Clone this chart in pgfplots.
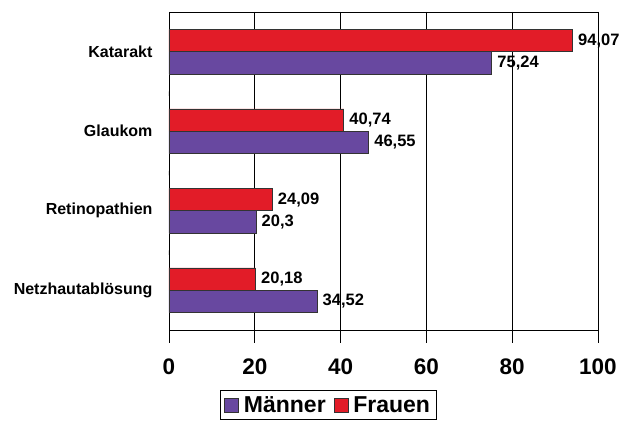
\documentclass[border=0pt]{standalone}
\usepackage{fontspec}
\setmainfont{Liberation Sans}
\usepackage{pgfplots}
\pgfplotsset{compat=1.18}
\definecolor{maenner}{RGB}{104,72,160}
\definecolor{frauen}{RGB}{226,28,40}
\begin{document}
\begin{tikzpicture}[x=1pt,y=1pt]
\path[use as bounding box] (-169,-92) rectangle (456,330);
\begin{axis}[
  at={(0,0)}, anchor=south west,
  scale only axis, width=429pt, height=318pt,
  xmin=0, xmax=100, ymin=-0.5, ymax=3.5, y dir=reverse,
  xbar, bar width=0.28,
  xtick={0,20,...,100}, xmajorgrids,
  grid style={black, line width=0.8pt},
  axis line style={black, line width=0.8pt},
  ytick={0,1,2,3},
  yticklabels={Katarakt,Glaukom,Retinopathien,Netzhautablösung},
  ytick style={draw=none},
  xtick style={black, line width=0.8pt},
  tick pos=left, tick align=outside,
  major tick length=13pt,
  xticklabel style={font=\fontsize{22.5}{24}\selectfont\bfseries, yshift=-12pt},
  yticklabel style={font=\fontsize{16}{18}\selectfont\bfseries, xshift=0pt},
  /pgf/number format/.cd, use comma, assume math mode=true, /pgfplots/.cd,
  point meta=x,
  nodes near coords,
  every node near coord/.append style={font=\fontsize{16.5}{18}\selectfont\bfseries, black, anchor=west, xshift=2pt},
  legend columns=2,
  legend style={at={(0.371,-0.236)}, anchor=center, draw=black, line width=0.8pt,
    font=\fontsize{23}{25}\selectfont\bfseries, inner xsep=4pt, inner ysep=3.5pt,
    /tikz/every odd column/.append style={column sep=3pt},
    /tikz/every even column/.append style={column sep=6pt}},
  legend image code/.code={\draw[#1, line width=0.6pt] (1pt,-7pt) rectangle (15pt,7pt);},
]
\addplot[fill=maenner, draw=black!80, line width=0.6pt, bar shift=0.14] coordinates {
  (75.24,0) (46.55,1) (20.3,2) (34.52,3)};
\addplot[fill=frauen, draw=black!80, line width=0.6pt, bar shift=-0.14] coordinates {
  (94.07,0) (40.74,1) (24.09,2) (20.18,3)};
\legend{Männer, Frauen}
\draw[black, line width=0.8pt] (axis cs:0,0.5) -- ++(-6pt,0);
\draw[black, line width=0.8pt] (axis cs:0,1.5) -- ++(-6pt,0);
\draw[black, line width=0.8pt] (axis cs:0,2.5) -- ++(-6pt,0);
\end{axis}
\end{tikzpicture}
\end{document}
